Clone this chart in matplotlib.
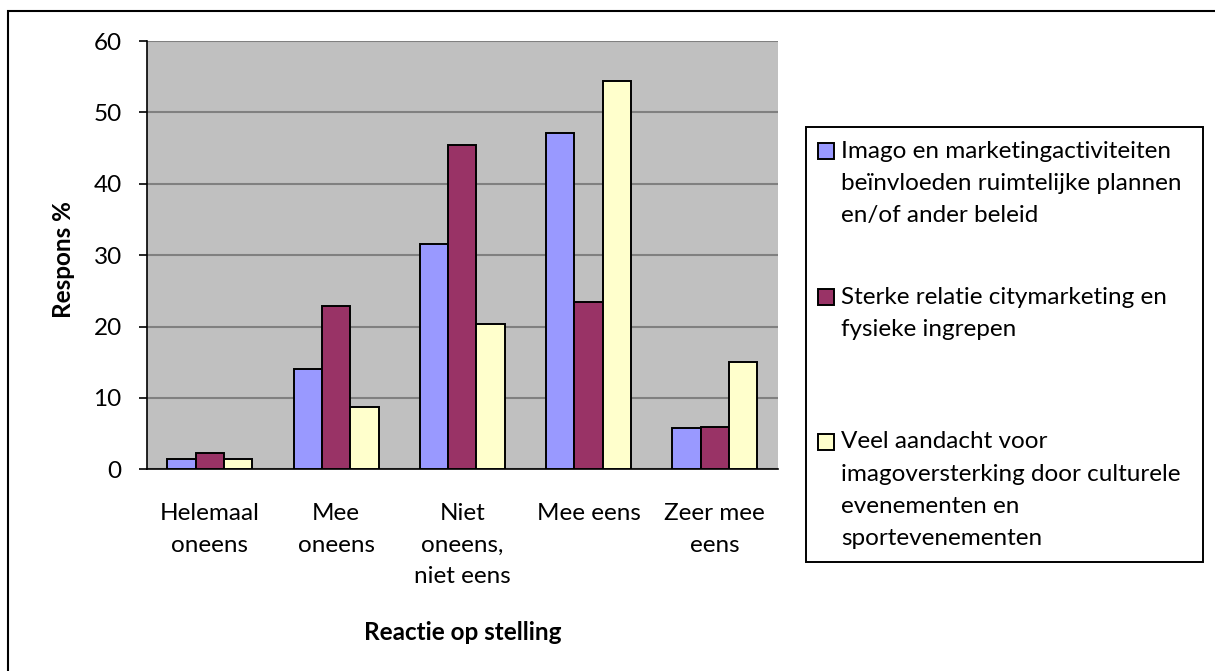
import matplotlib
matplotlib.use("Agg")
import matplotlib.pyplot as plt
from matplotlib.patches import Rectangle
import numpy as np

categories = ["Helemaal\noneens", "Mee\noneens", "Niet\noneens,\nniet eens", "Mee eens", "Zeer mee\neens"]
series_names = [
    "Imago en marketingactiviteiten\nbeïnvloeden ruimtelijke plannen\nen/of ander beleid",
    "Sterke relatie citymarketing en\nfysieke ingrepen",
    "Veel aandacht voor\nimagoversterking door culturele\nevenementen en\nsportevenementen",
]
imago = [1.4, 14.1, 31.5, 47.1, 5.8]
relatie = [2.3, 22.9, 45.4, 23.4, 5.9]
aandacht = [1.4, 8.7, 20.4, 54.4, 15.0]
series_values = [imago, relatie, aandacht]
colors = ["#9999FF", "#993366", "#FFFFCC"]
yticks = [0, 10, 20, 30, 40, 50, 60]

FONT = "Lato"
FS = 17.5
plt.rcParams["font.family"] = [FONT, "DejaVu Sans"]

W, H = 1215, 671
fig = plt.figure(figsize=(W / 100, H / 100), dpi=100)

def px(x, y):
    return x / W, 1 - y / H

# outer frame
fig.patches.append(Rectangle((8 / W, -0.1), 1.2, 1 - 11.5 / H + 0.1, transform=fig.transFigure,
                             fill=False, edgecolor="black", linewidth=1.5, zorder=0))

left, right, top, bottom = 146.7, 778, 41, 469.3
ax = fig.add_axes([left / W, 1 - bottom / H, (right - left) / W, (bottom - top) / H])
ax.set_facecolor("#C0C0C0")

x = np.arange(len(categories))
bw = 0.224
for i, (vals, c) in enumerate(zip(series_values, colors)):
    ax.bar(x + (i - 1) * bw, vals, width=bw, color=c, edgecolor="black", linewidth=1.4, zorder=3)

ax.set_xlim(-0.5, len(categories) - 0.5)
ax.set_ylim(0, 60)
ax.set_yticks(yticks)
ax.set_yticklabels([str(t) for t in yticks], fontsize=FS)
ax.yaxis.grid(True, color="#808080", linewidth=1.5, zorder=1)
ax.set_axisbelow(True)
ax.tick_params(axis="y", direction="out", length=6, width=1.2, pad=12)
ax.set_xticks(x)
ax.set_xticklabels(categories, fontsize=FS, linespacing=1.6, va="top")
ax.tick_params(axis="x", length=0, pad=24.5)
for s in ["top", "right"]:
    ax.spines[s].set_visible(False)
ax.spines["left"].set_linewidth(1.2)
ax.spines["bottom"].set_linewidth(1.2)

ax.set_ylabel("Respons %", fontsize=FS, fontweight="bold", va="center")
ax.yaxis.set_label_coords((63 - left) / (right - left), 0.5 + (255 - 259) / (bottom - top))
ax.set_xlabel("Reactie op stelling", fontsize=FS, fontweight="bold", va="center")
ax.xaxis.set_label_coords(0.5, (bottom - 632) / (bottom - top))

# legend (manual layout)
lx0, ly0, lx1, ly1 = 806, 127, 1203, 562
fig.patches.append(Rectangle(px(lx0, ly1), (lx1 - lx0) / W, (ly1 - ly0) / H, transform=fig.transFigure,
                             fill=True, facecolor="white", edgecolor="black", linewidth=1.4, zorder=1))
first_line_y = [151, 297, 442]
line_gap = 32.3
for name, c, y0 in zip(series_names, colors, first_line_y):
    fig.patches.append(Rectangle(px(818, y0 + 8), 16 / W, 16 / H, transform=fig.transFigure,
                                 facecolor=c, edgecolor="black", linewidth=1.4, zorder=2))
    for k, line in enumerate(name.split("\n")):
        fig.text(*px(841, y0 + k * line_gap), line, fontsize=FS, ha="left", va="center", zorder=3)

fig.savefig("out.png", dpi=100)
